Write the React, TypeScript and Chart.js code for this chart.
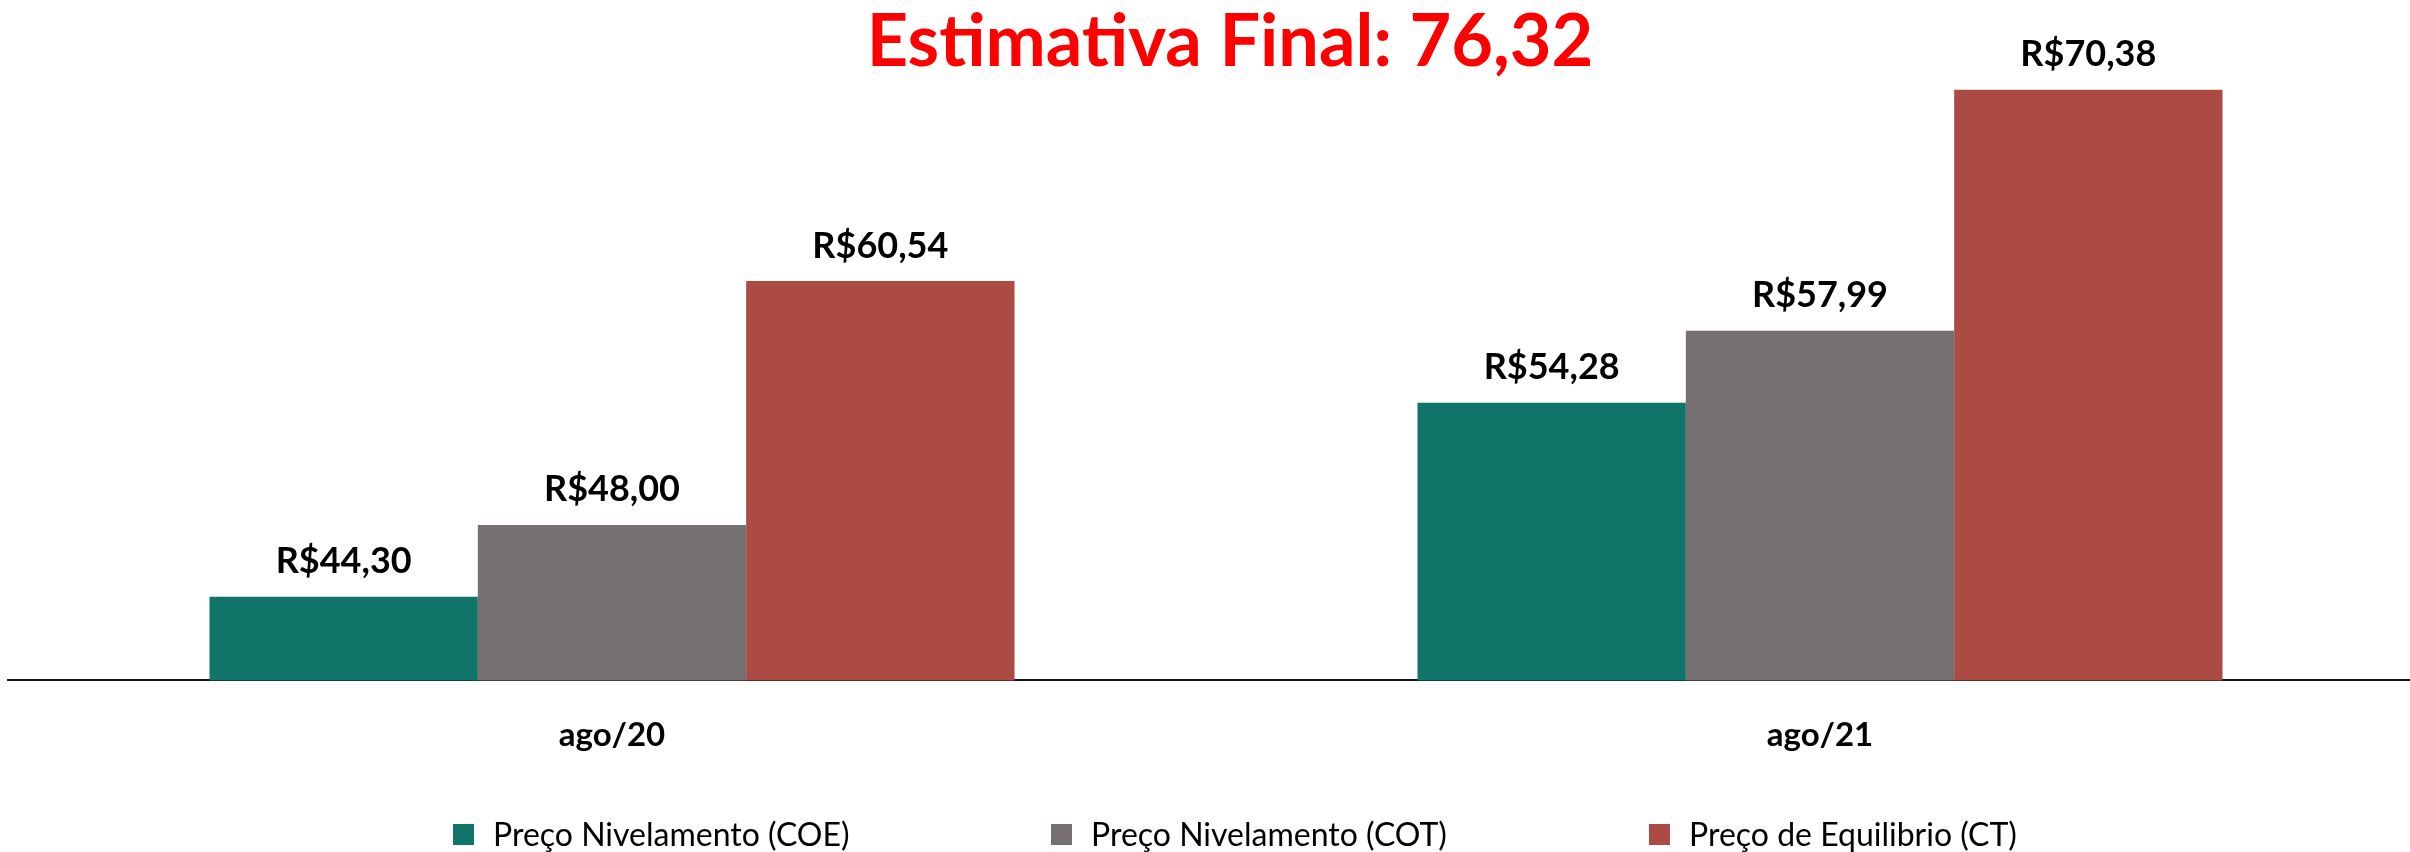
import React, { useEffect, useRef } from 'react';
import { Chart, registerables } from 'chart.js';

Chart.register(...registerables);

// ---- data ----
const categories = ['ago/20', 'ago/21'];
const seriesNames = ['Preço Nivelamento (COE)', 'Preço Nivelamento (COT)', 'Preço de Equilibrio (CT)'];
const coeValues = [44.3, 54.28];
const cotValues = [48.0, 57.99];
const ctValues = [60.54, 70.38];
const seriesColors = ['#117468', '#767170', '#AB4B43'];
const finalEstimate = 76.32;
const yMin = 40;
const yMax = 75;

const FONT = 'Lato, "Open Sans", "Noto Sans", sans-serif';
const fmt = (v: number) => v.toFixed(2).replace('.', ',');

const barLabelsPlugin = {
  id: 'barLabels',
  afterDatasetsDraw(chart: any) {
    const ctx = chart.ctx;
    ctx.save();
    ctx.font = `bold 36px ${FONT}`;
    ctx.fillStyle = '#000000';
    ctx.textAlign = 'center';
    ctx.textBaseline = 'alphabetic';
    chart.data.datasets.forEach((ds: any, i: number) => {
      chart.getDatasetMeta(i).data.forEach((el: any, j: number) => {
        ctx.fillText('R$' + fmt(ds.data[j]), el.x, el.y - 23.5);
      });
    });
    ctx.restore();
  },
};

const titlePlugin = {
  id: 'overlayTitle',
  afterDraw(chart: any) {
    const ctx = chart.ctx;
    const { left, right } = chart.chartArea;
    ctx.save();
    ctx.font = `bold 72px ${FONT}`;
    ctx.fillStyle = '#FF0000';
    ctx.textAlign = 'center';
    ctx.textBaseline = 'alphabetic';
    ctx.fillText('Estimativa Final: ' + fmt(finalEstimate), (left + right) / 2 + 14, 66);
    ctx.restore();
  },
};

const LEGEND_START = 453;
const LEGEND_STEP = 598;
const LEGEND_BOX = 21;
const LEGEND_BOX_TOP = 824;
const LEGEND_BASELINE = 846;

const legendPlugin = {
  id: 'slotLegend',
  afterDraw(chart: any) {
    const ctx = chart.ctx;
    ctx.save();
    ctx.font = `32px ${FONT}`;
    ctx.textAlign = 'left';
    ctx.textBaseline = 'alphabetic';
    chart.data.datasets.forEach((ds: any, i: number) => {
      const x0 = LEGEND_START + i * LEGEND_STEP;
      ctx.fillStyle = ds.backgroundColor;
      ctx.fillRect(x0, LEGEND_BOX_TOP, LEGEND_BOX, LEGEND_BOX);
      ctx.fillStyle = '#000000';
      ctx.fillText(ds.label, x0 + LEGEND_BOX + 19, LEGEND_BASELINE);
    });
    ctx.restore();
  },
};

export default function App() {
  const ref = useRef<HTMLCanvasElement>(null);

  useEffect(() => {
    if (!ref.current) return;
    const seriesValues = [coeValues, cotValues, ctValues];
    const chart = new Chart(ref.current, {
      type: 'bar',
      data: {
        labels: categories,
        datasets: seriesNames.map((name, i) => ({
          label: name,
          data: seriesValues[i],
          backgroundColor: seriesColors[i],
          borderWidth: 0,
        })),
      },
      options: {
        responsive: false,
        animation: false,
        devicePixelRatio: 1,
        layout: { padding: { left: 8, right: 0, top: 0, bottom: 62 } },
        datasets: { bar: { barPercentage: 1, categoryPercentage: 0.6664 } } as any,
        plugins: {
          legend: { display: false },
          title: { display: false },
          tooltip: { enabled: false },
        },
        scales: {
          x: {
            grid: { display: false, drawTicks: false },
            border: { display: true, color: '#111111', width: 2 },
            ticks: {
              padding: 35,
              color: '#000000',
              font: { family: FONT, size: 33, weight: 'bold' },
            },
          },
          y: { display: false, min: yMin, max: yMax },
        },
      },
      plugins: [barLabelsPlugin, titlePlugin, legendPlugin],
    });
    if ((document as any).fonts && (document as any).fonts.load) {
      Promise.all([
        (document as any).fonts.load(`bold 36px Lato`),
        (document as any).fonts.load(`32px Lato`),
      ]).then(() => chart.update()).catch(() => {});
    }
    return () => chart.destroy();
  }, []);

  return (
    <div
      style={{
        position: 'absolute',
        left: 0,
        top: 0,
        width: 2410,
        height: 852,
        overflow: 'hidden',
        background: '#ffffff',
      }}
    >
      <canvas ref={ref} width={2424} height={852} style={{ display: 'block', width: 2424, height: 852 }} />
    </div>
  );
}
